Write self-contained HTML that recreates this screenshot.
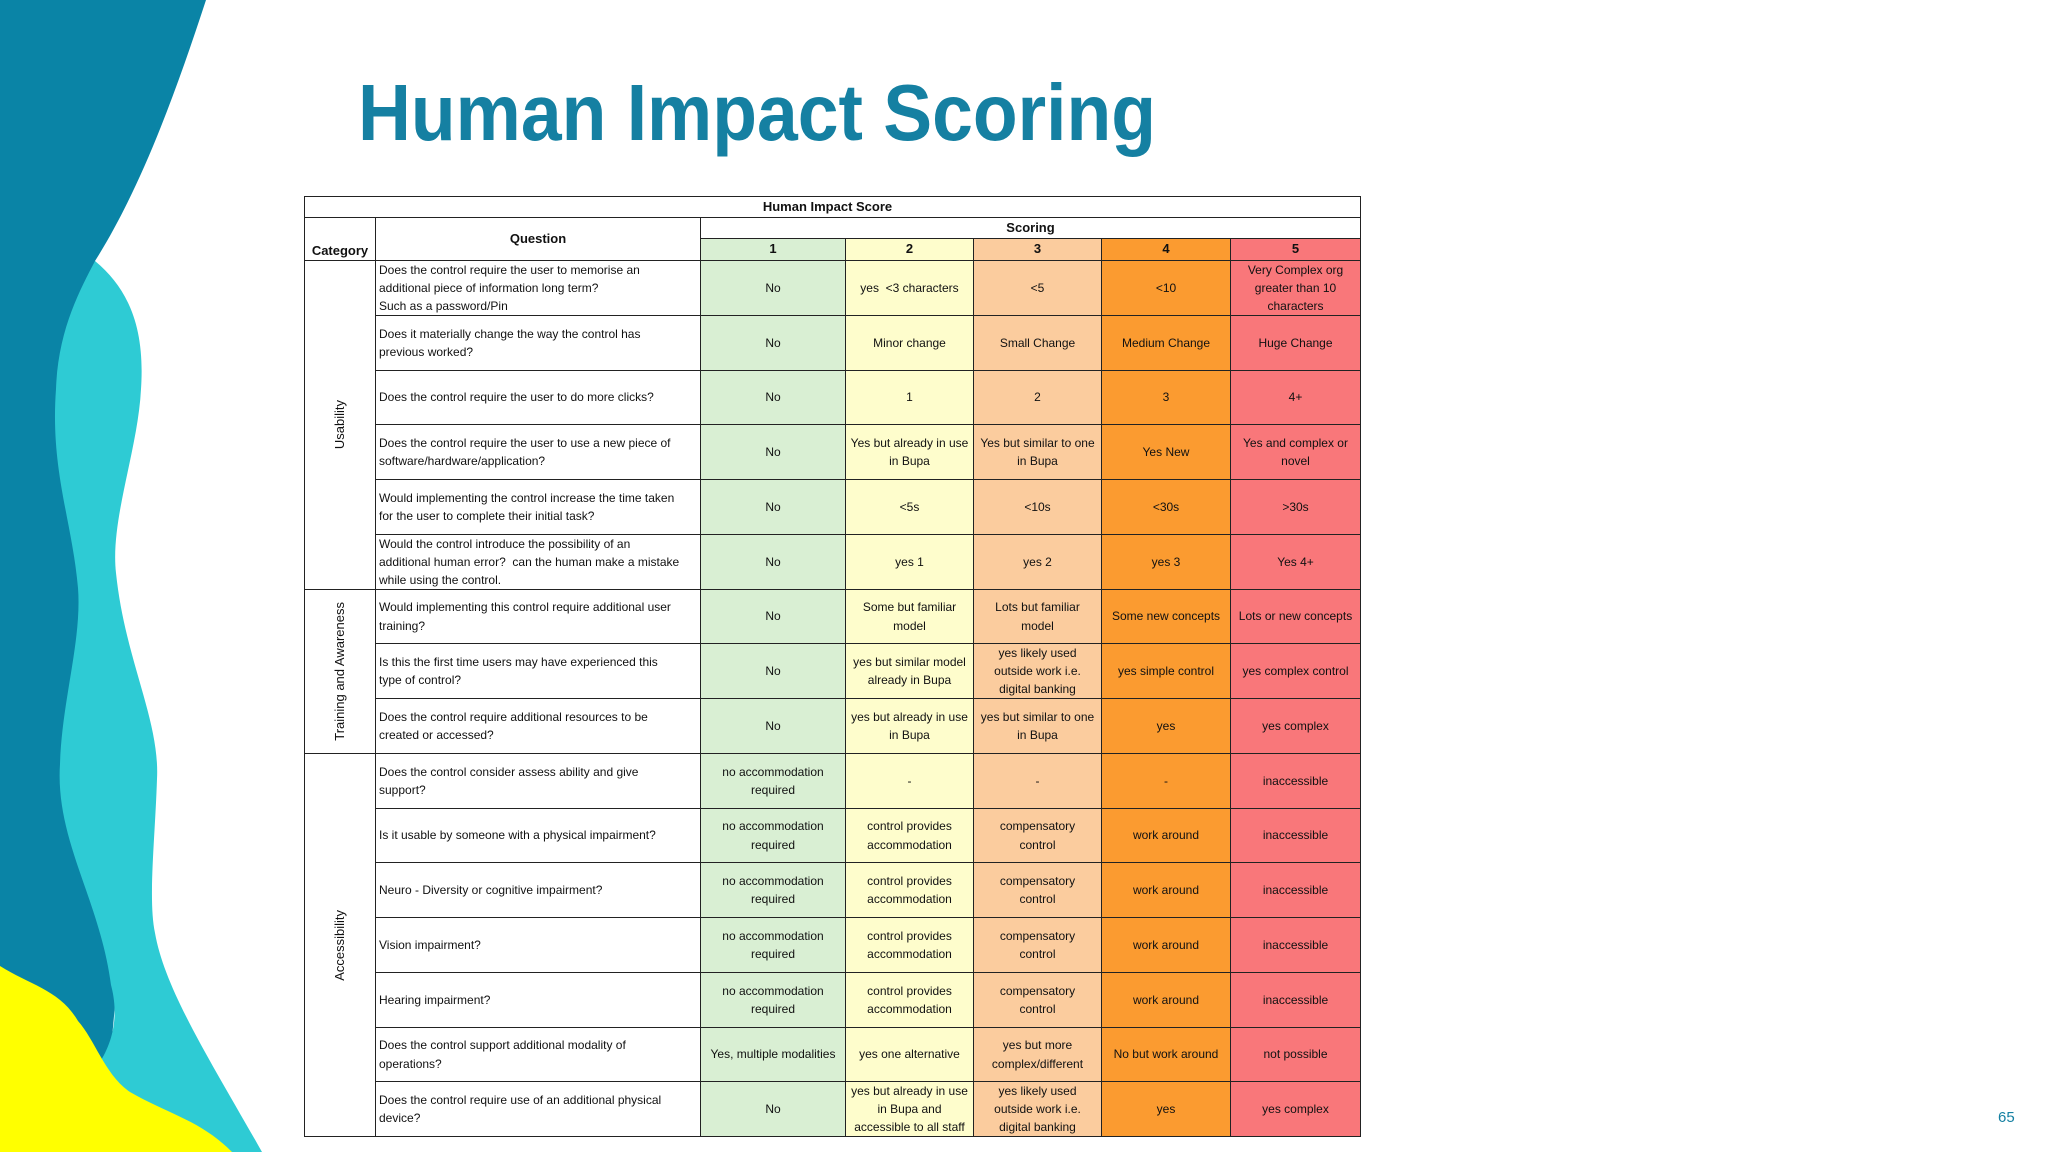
<!DOCTYPE html>
<html><head><meta charset="utf-8">
<style>
html,body{margin:0;padding:0;width:2048px;height:1152px;overflow:hidden;background:#fff;font-family:"Liberation Sans",sans-serif}
#bg{position:absolute;left:0;top:0}
.c{position:absolute;box-sizing:border-box;border:1px solid #222;display:flex;align-items:center;justify-content:center;text-align:center;font-size:12px;line-height:18.3px;color:#111;overflow:hidden;padding:0 1px;white-space:nowrap}
.q{justify-content:flex-start;text-align:left;padding-left:3px}
.h{font-weight:bold;font-size:13px}
.v{writing-mode:vertical-rl;transform:rotate(180deg);font-size:13px}
</style></head><body>
<svg id="bg" width="2048" height="1152">
<path d="M0,0 L206,0 C175,95 140,190 95,261 L110,330 L100,450 L95,600 L110,780 L120,950 L110,1060 L110,1152 L0,1152 Z" fill="#0a84a6"/>
<path d="M95,261 C130,290 145,330 141,389 C138,450 110,520 116,573 C125,660 160,720 157,779 C155,840 148,900 155,933 C165,990 210,1060 262,1152 L100,1152 L100,1062 C120,1030 115,1000 111,985 C100,900 55,840 60,764 C62,700 82,640 78,588 C72,520 50,470 56,389 C58,330 80,290 95,261 Z" fill="#2ecbd4"/>
<path d="M0,966 C30,985 60,990 78,1021 C95,1040 105,1075 130,1092 C170,1115 200,1120 232,1152 L0,1152 Z" fill="#ffff00"/>
</svg>
<svg style="position:absolute;left:0;top:0" width="2048" height="200">
<text x="358" y="140" font-family="Liberation Sans, sans-serif" font-weight="bold" font-size="80" fill="#1580a2" textLength="798" lengthAdjust="spacingAndGlyphs">Human Impact Scoring</text>
</svg>
<div style="position:absolute;left:1998px;top:1109px;font-size:15px;color:#1580a2">65</div>
<div id="tbl"></div>
<script>
const colX=[304,375,700,845,973,1101,1230,1360];
const colors=['#d9efd3','#fefdcc','#fbcc9e','#fb9b30','#f9777a'];
const rowTop=260, rowH=54.75;
const questions=["Does the control require the user to memorise an<br>additional piece of information long term?<br>Such as a password/Pin","Does it materially change the way the control has<br>previous worked?","Does the control require the user to do more clicks?","Does the control require the user to use a new piece of<br>software/hardware/application?","Would implementing the control increase the time taken<br>for the user to complete their initial task?","Would the control introduce the possibility of an<br>additional human error?&nbsp; can the human make a mistake<br>while using the control.","Would implementing this control require additional user<br>training?","Is this the first time users may have experienced this<br>type of control?","Does the control require additional resources to be<br>created or accessed?","Does the control consider assess ability and give<br>support?","Is it usable by someone with a physical impairment?","Neuro - Diversity or cognitive impairment?","Vision impairment?","Hearing impairment?","Does the control support additional modality of<br>operations?","Does the control require use of an additional physical<br>device?"];
const answers=[
["No","yes&nbsp; &lt;3 characters","&lt;5","&lt;10","Very Complex org<br>greater than 10<br>characters"],
["No","Minor change","Small Change","Medium Change","Huge Change"],
["No","1","2","3","4+"],
["No","Yes but already in use<br>in Bupa","Yes but similar to one<br>in Bupa","Yes New","Yes and complex or<br>novel"],
["No","&lt;5s","&lt;10s","&lt;30s","&gt;30s"],
["No","yes 1","yes 2","yes 3","Yes 4+"],
["No","Some but familiar<br>model","Lots but familiar<br>model","Some new concepts","Lots or new concepts"],
["No","yes but similar model<br>already in Bupa","yes likely used<br>outside work i.e.<br>digital banking","yes simple control","yes complex control"],
["No","yes but already in use<br>in Bupa","yes but similar to one<br>in Bupa","yes","yes complex"],
["no accommodation<br>required","-","-","-","inaccessible"],
["no accommodation<br>required","control provides<br>accommodation","compensatory<br>control","work around","inaccessible"],
["no accommodation<br>required","control provides<br>accommodation","compensatory<br>control","work around","inaccessible"],
["no accommodation<br>required","control provides<br>accommodation","compensatory<br>control","work around","inaccessible"],
["no accommodation<br>required","control provides<br>accommodation","compensatory<br>control","work around","inaccessible"],
["Yes, multiple modalities","yes one alternative","yes but more<br>complex/different","No but work around","not possible"],
["No","yes but already in use<br>in Bupa and<br>accessible to all staff","yes likely used<br>outside work i.e.<br>digital banking","yes","yes complex"]];
const categories=["Usability","Training and Awareness","Accessibility"];
const catRows=[6,3,7];
const tbl=document.getElementById('tbl');
function cell(x1,y1,x2,y2,html,cls,bg,name){
  const d=document.createElement('div');
  d.className='c '+(cls||'');
  d.style.left=x1+'px';d.style.top=y1+'px';
  d.style.width=(x2-x1+1)+'px';d.style.height=(y2-y1+1)+'px';
  if(bg)d.style.background=bg;
  d.innerHTML=html;
  
  
  tbl.appendChild(d);return d;
}
cell(304,196,1360,217,'<span style="margin-left:-10px">Human Impact Score</span>','h',null,'header-human-impact-score');
cell(304,217,375,260,'<span style="align-self:flex-end">Category</span>','h',null,'header-category');
cell(375,217,700,260,'Question','h',null,'header-question');
cell(700,217,1360,238,'Scoring','h',null,'header-scoring');
for(let i=0;i<5;i++)cell(colX[i+2],238,colX[i+3],260,String(i+1),'h',colors[i],'score-header-'+(i+1));
let r=0;
categories.forEach((cat,ci)=>{
  const y1=Math.round(rowTop+r*rowH),y2=Math.round(rowTop+(r+catRows[ci])*rowH);
  cell(304,y1,375,y2,'<span class="v">'+cat+'</span>','',null,'category-'+cat.toLowerCase().replace(/ /g,'-'));
  r+=catRows[ci];
});
questions.forEach((q,i)=>{
  const y1=Math.round(rowTop+i*rowH),y2=Math.round(rowTop+(i+1)*rowH);
  cell(375,y1,700,y2,'<span>'+q+'</span>','q',null,'question-'+(i+1));
  answers[i].forEach((a,j)=>{
    cell(colX[j+2],y1,colX[j+3],y2,'<span>'+a+'</span>','',colors[j],'answer-r'+(i+1)+'-s'+(j+1));
  });
});
</script>
</body></html>
